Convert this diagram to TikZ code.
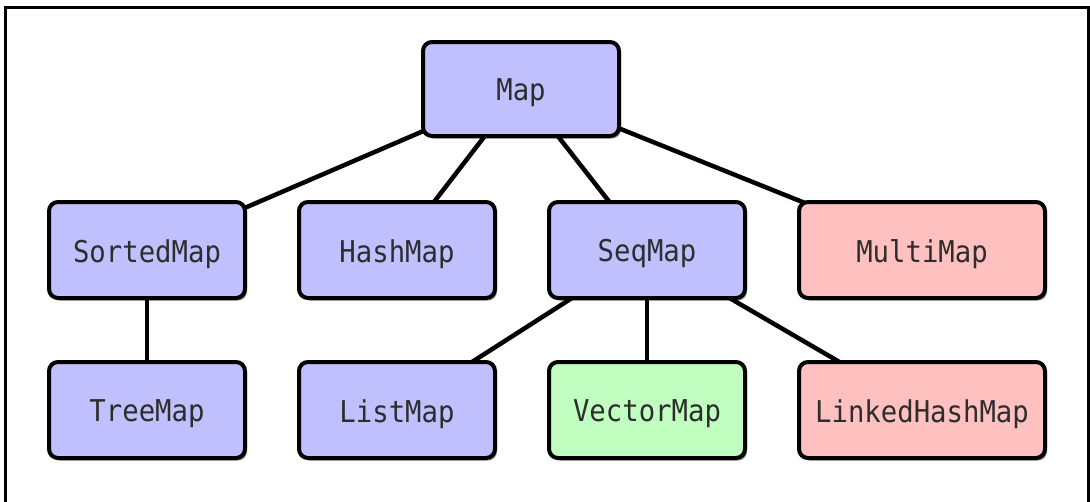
\documentclass[tikz,border=0pt]{standalone}
\usepackage{fontspec}
\newfontfamily\monofont{DejaVu Sans Mono}
\usetikzlibrary{shadows,backgrounds}
\definecolor{bluefill}{RGB}{192,192,255}
\definecolor{pinkfill}{RGB}{255,192,192}
\definecolor{greenfill}{RGB}{192,255,192}
\definecolor{txtgray}{RGB}{45,45,45}
\newcommand{\lbl}[1]{\raisebox{-4pt}[\height][\depth]{\scalebox{0.91}[1]{#1}}}
\tikzset{
  box/.style={draw=black, line width=4pt, rounded corners=9pt,
    minimum width=196pt, minimum height=96pt, inner sep=0pt,
    font=\monofont\fontsize{30}{34}\selectfont, text=txtgray,
    drop shadow={shadow xshift=2pt, shadow yshift=-2.5pt, opacity=0.45, fill=black}},
  widebox/.style={box, minimum width=246pt},
  bluebox/.style={box, fill=bluefill},
  pinkbox/.style={widebox, fill=pinkfill},
  greenbox/.style={box, fill=greenfill},
  link/.style={draw=black, line width=4.5pt},
  frame/.style={draw=black, line width=3pt}
}
\begin{document}
\begin{tikzpicture}[x=1pt,y=-1pt]
\useasboundingbox (0,0) rectangle (1090,501);
\coordinate (fbl) at (5.5,503);
\coordinate (ftl) at (5.5,7);
\coordinate (ftr) at (1088,7);
\coordinate (fbr) at (1088,503);
\draw[frame] (fbl) -- (ftl) -- (ftr) -- (fbr);
\node[bluebox, minimum height=94pt] (map) at (521,89) {\lbl{Map}};
\node[bluebox] (sorted) at (147,250) {\lbl{SortedMap}};
\node[bluebox] (hash) at (397,250) {\lbl{HashMap}};
\node[bluebox] (seq) at (647,250) {\lbl{SeqMap}};
\node[pinkbox] (multi) at (922,250) {\lbl{MultiMap}};
\node[bluebox] (tree) at (147,410) {\lbl{TreeMap}};
\node[bluebox] (list) at (397,410) {\lbl{ListMap}};
\node[greenbox] (vector) at (647,410) {\lbl{VectorMap}};
\node[pinkbox] (linked) at (922,410) {\lbl{LinkedHashMap}};
\begin{scope}[on background layer]
\draw[link] (map.center) -- (sorted.center);
\draw[link] (map.center) -- (hash.center);
\draw[link] (map.center) -- (seq.center);
\draw[link] (map.center) -- (multi.center);
\draw[link] (sorted.center) -- (tree.center);
\draw[link] (seq.center) -- (list.center);
\draw[link] (seq.center) -- (vector.center);
\draw[link] (seq.center) -- (linked.center);
\end{scope}
\end{tikzpicture}
\end{document}
